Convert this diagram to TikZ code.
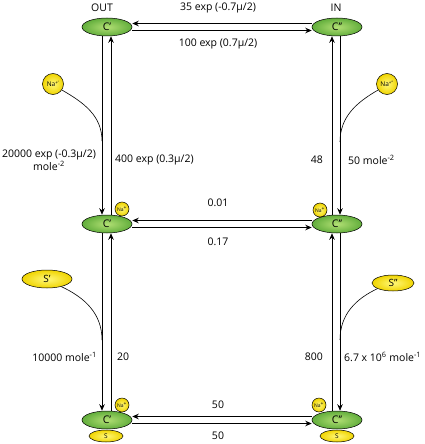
\documentclass[tikz,border=0pt]{standalone}
\usepackage{fontspec}
\setmainfont{Open Sans}
\usetikzlibrary{shapes.geometric,arrows.meta}
\definecolor{gin}{HTML}{B2DF74}
\definecolor{gout}{HTML}{62AE3C}
\definecolor{yin}{HTML}{FFF87A}
\definecolor{yout}{HTML}{F0D400}
\tikzset{
  gr/.style={ellipse,draw=black,line width=0.5pt,inner sep=0pt,minimum width=50pt,minimum height=18pt,inner color=gin,outer color=gout,font=\fontsize{10.5}{11}\selectfont},
  yel/.style={ellipse,draw=black,line width=0.5pt,inner sep=0pt,inner color=yin,outer color=yout},
  nasm/.style={circle,draw=black,line width=0.5pt,inner sep=0pt,minimum size=14pt,inner color=yin,outer color=yout,font=\fontsize{5}{5}\selectfont},
  nabig/.style={circle,draw=black,line width=0.5pt,inner sep=0pt,minimum size=21pt,inner color=yin,outer color=yout,font=\fontsize{6.5}{7}\selectfont},
  arr/.style={-{Stealth[length=6.5pt,width=5.5pt]},line width=0.75pt},
  crv/.style={line width=0.6pt},
  lab/.style={font=\fontsize{10.5}{12.5}\selectfont,inner sep=0pt}
}
\begin{document}
\begin{tikzpicture}[x=1pt,y=-1pt]
\useasboundingbox (0,0) rectangle (425,444);
% S ellipses under bottom nodes
\node[yel,minimum width=34pt,minimum height=12pt,font=\fontsize{6.5}{7}\selectfont] (sb1) at (106,436) {S};
\node[yel,minimum width=34pt,minimum height=12pt,font=\fontsize{6.5}{7}\selectfont] (sb2) at (337,436) {S};
% main nodes
\node[gr] (t1) at (107,27) {C’};
\node[gr] (t2) at (337,27) {C’’};
\node[gr] (m1) at (107,224) {C’};
\node[gr] (m2) at (337,224) {C’’};
\node[gr] (b1) at (107,420) {C’};
\node[gr] (b2) at (337,420) {C’’};
% small Na+
\node[nasm] (nm1) at (122,209) {Na\textsuperscript{+}};
\node[nasm] (nm2) at (320,210) {Na\textsuperscript{+}};
\node[nasm] (nb1) at (122,405) {Na\textsuperscript{+}};
\node[nasm] (nb2) at (319,405) {Na\textsuperscript{+}};
% big ligands
\node[nabig] (na1) at (53,84) {Na\textsuperscript{+’}};
\node[nabig] (na2) at (387,84) {Na\textsuperscript{+’’}};
\node[yel,minimum width=50pt,minimum height=18pt,font=\fontsize{10}{11}\selectfont] (s1) at (47,279) {S’};
\node[yel,minimum width=42pt,minimum height=16pt,font=\fontsize{10}{11}\selectfont] (s2) at (393,283) {S’’};
% titles
\node[lab] (out) at (102,8) {OUT};
\node[lab] (in) at (336,8) {IN};
% horizontal transitions
\draw[arr] ([yshift=3.5pt]t2.west) -- ([yshift=3.5pt]t1.east);
\draw[arr] ([yshift=-3.5pt]t1.east) -- ([yshift=-3.5pt]t2.west);
\draw[arr] ([yshift=3.5pt]m2.west) -- ([yshift=3.5pt]m1.east);
\draw[arr] ([yshift=-3.5pt]m1.east) -- ([yshift=-3.5pt]m2.west);
\draw[arr] ([yshift=3.5pt]b2.west) -- ([yshift=3.5pt]b1.east);
\draw[arr] ([yshift=-3.5pt]b1.east) -- ([yshift=-3.5pt]b2.west);
% vertical transitions left
\draw[arr] ([xshift=-5pt]t1.south) -- ([xshift=-5pt]m1.north);
\draw[arr] ([xshift=4pt]m1.north) -- ([xshift=4pt]t1.south);
\draw[arr] ([xshift=-5pt]m1.south) -- ([xshift=-5pt]b1.north);
\draw[arr] ([xshift=4pt]b1.north) -- ([xshift=4pt]m1.south);
% vertical transitions right
\draw[arr] ([xshift=-5pt]m2.north) -- ([xshift=-5pt]t2.south);
\draw[arr] ([xshift=3pt]t2.south) -- ([xshift=3pt]m2.north);
\draw[arr] ([xshift=-5pt]b2.north) -- ([xshift=-5pt]m2.south);
\draw[arr] ([xshift=3pt]m2.south) -- ([xshift=3pt]b2.north);
% binding curves
\coordinate (j1) at (102,141);
\coordinate (j2) at (340,142);
\coordinate (j3) at (102,340);
\coordinate (j4) at (340,340);
\draw[crv] (na1.-34) to[out=-30,in=90] (j1);
\draw[crv] (na2.214) to[out=210,in=90] (j2);
\draw[crv] (s1.-28) to[out=-25,in=90] (j3);
\draw[crv] (s2.200) to[out=205,in=90] (j4);
% rate labels
\node[lab] at (218,8) {35 exp (-0.7μ/2)};
\node[lab] at (218,44) {100 exp (0.7μ/2)};
\node[lab,align=center] at (49,160) {20000 exp (-0.3μ/2)\\mole\textsuperscript{-2}};
\node[lab,anchor=west] at (115,160) {400 exp (0.3μ/2)};
\node[lab,anchor=east] at (323,160) {48};
\node[lab,anchor=west] at (348,160) {50 mole\textsuperscript{-2}};
\node[lab] at (218,203) {0.01};
\node[lab] at (218,242) {0.17};
\node[lab,anchor=east] at (97,357) {10000 mole\textsuperscript{-1}};
\node[lab,anchor=west] at (117,357) {20};
\node[lab,anchor=east] at (323,357) {800};
\node[lab,anchor=west] at (344,357) {6.7 x 10\textsuperscript{6} mole\textsuperscript{-1}};
\node[lab] at (218,405) {50};
\node[lab] at (218,436) {50};
\end{tikzpicture}
\end{document}
